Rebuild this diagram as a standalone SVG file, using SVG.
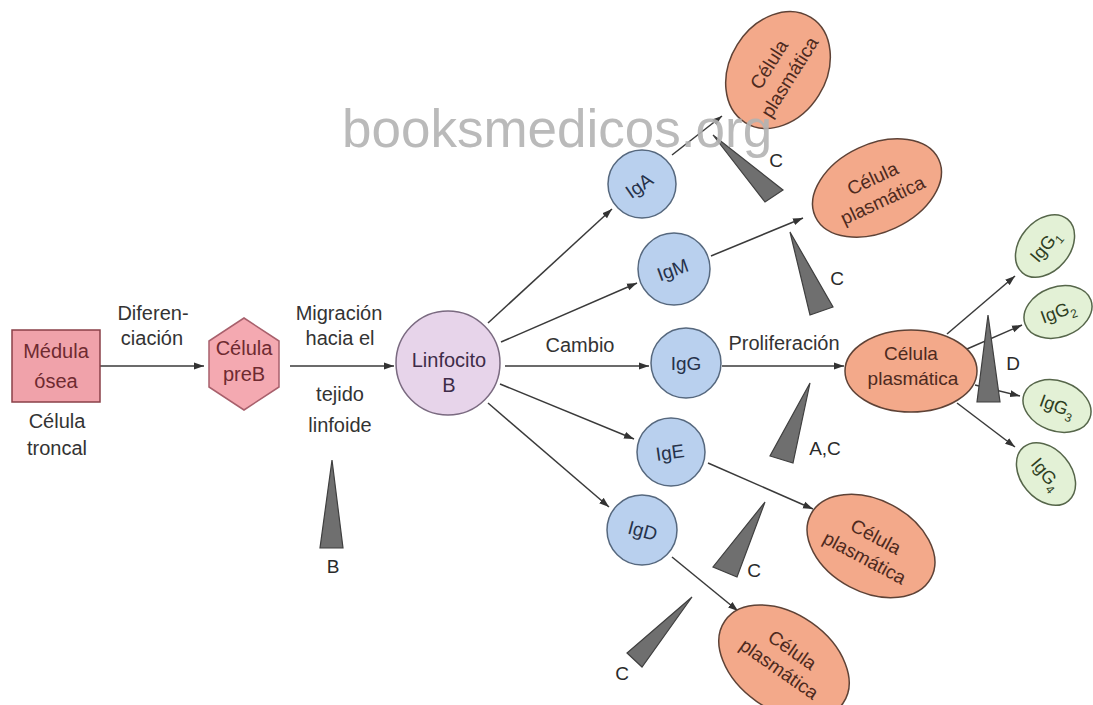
<svg xmlns="http://www.w3.org/2000/svg" width="1093" height="705" viewBox="0 0 1093 705">
<defs>
<marker id="ah" markerUnits="userSpaceOnUse" markerWidth="11" markerHeight="8" refX="10" refY="4" orient="auto">
<path d="M0,0.5 L10,4 L0,7.5 Z" fill="#333"/>
</marker>
<style>
text{font-family:"Liberation Sans",Arial,sans-serif;text-anchor:middle}
.lbl{font-size:20px;fill:#333}
.wl{font-size:19px;fill:#2a2a2a}
.conn line,.conn path{stroke:#3a3a3a;stroke-width:1.5;fill:none;marker-end:url(#ah)}
.wedge{fill:#6f6f6f;stroke:#3f3f3f;stroke-width:1.2}
.ig circle{fill:#b9d0ee;stroke:#56687e;stroke-width:1.5}
.ig text{font-size:19px;fill:#26324a}
.pc ellipse{fill:#f3a98a;stroke:#5e4236;stroke-width:1.5}
.pc text{font-size:19px;fill:#4e2a1e}
.sg ellipse{fill:#e3f1d6;stroke:#56664a;stroke-width:1.5}
.sg text{font-size:18px;fill:#2e3e22}
</style>
</defs>
<rect width="1093" height="705" fill="#fff"/>

<g class="conn">
<line x1="100" y1="366" x2="204" y2="366"/>
<line x1="290" y1="366" x2="394" y2="366"/>
<line x1="505" y1="366" x2="649" y2="366"/>
<line x1="722" y1="366" x2="844" y2="366"/>
<line x1="488" y1="323" x2="612" y2="209"/>
<line x1="501" y1="342" x2="637" y2="283"/>
<line x1="500" y1="384" x2="634" y2="439"/>
<line x1="488" y1="403" x2="609" y2="507"/>
<line x1="672" y1="155" x2="722" y2="116"/>
<line x1="711" y1="256" x2="803" y2="218"/>
<line x1="708" y1="463" x2="813" y2="509"/>
<line x1="672" y1="557" x2="738" y2="611"/>
<line x1="947" y1="334" x2="1015" y2="276"/>
<line x1="967" y1="349" x2="1022" y2="325"/>
<line x1="975" y1="385" x2="1020" y2="396"/>
<line x1="957" y1="403" x2="1015" y2="447"/>
</g>

<g id="medula">
<rect x="12" y="330" width="88" height="72" fill="#f0a2aa" stroke="#8a4048" stroke-width="1.5"/>
<text x="56" y="358" font-size="20" fill="#6e2a30">Médula</text>
<text x="56" y="388" font-size="20" fill="#6e2a30">ósea</text>
<text x="57" y="428" class="lbl">Célula</text>
<text x="57" y="455" class="lbl">troncal</text>
</g>

<g id="preB">
<polygon points="244,318 279,341 279,387 244,410 209,387 209,341" fill="#f4a9b1" stroke="#a8606c" stroke-width="1.5"/>
<text x="244" y="355" font-size="20" fill="#6e2a30">Célula</text>
<text x="244" y="381" font-size="20" fill="#6e2a30">preB</text>
</g>

<g id="linfocitoB">
<circle cx="448" cy="363" r="52" fill="#e7d4ea" stroke="#7a6a80" stroke-width="1.5"/>
<text x="449" y="367" font-size="20" fill="#3e2c48">Linfocito</text>
<text x="449" y="392" font-size="20" fill="#3e2c48">B</text>
</g>

<g id="labels">
<text x="153" y="320" class="lbl">Diferen-</text>
<text x="152" y="345" class="lbl">ciación</text>
<text x="339" y="320" class="lbl">Migración</text>
<text x="340" y="345" class="lbl">hacia el</text>
<text x="340" y="401" class="lbl">tejido</text>
<text x="340" y="432" class="lbl">linfoide</text>
<text x="580" y="352" class="lbl">Cambio</text>
<text x="784" y="350" class="lbl">Proliferación</text>
</g>

<g id="IgA" class="ig"><circle cx="642" cy="184" r="34"/><text transform="translate(643,191) rotate(-35)">IgA</text></g>
<g id="IgM" class="ig"><circle cx="674" cy="269" r="36"/><text transform="translate(675,276) rotate(-20)">IgM</text></g>
<g id="IgG" class="ig"><circle cx="686" cy="363" r="35"/><text x="686" y="370">IgG</text></g>
<g id="IgE" class="ig"><circle cx="671" cy="452" r="34"/><text transform="translate(671,459) rotate(-8)">IgE</text></g>
<g id="IgD" class="ig"><circle cx="642" cy="530" r="35"/><text transform="translate(641,537) rotate(15)">IgD</text></g>

<g id="plasmaA" class="pc" transform="translate(778,70) rotate(-58)">
<ellipse rx="62" ry="48"/><text y="-4">Célula</text><text y="20">plasmática</text>
</g>
<g id="plasmaM" class="pc" transform="translate(877,188) rotate(-25)">
<ellipse rx="68" ry="44"/><text y="-4">Célula</text><text y="20">plasmática</text>
</g>
<g id="plasmaG" class="pc" transform="translate(911,371)">
<ellipse rx="66" ry="41"/><text y="-11" font-size="20">Célula</text><text x="2" y="14" font-size="20">plasmática</text>
</g>
<g id="plasmaE" class="pc" transform="translate(871,546) rotate(28)">
<ellipse rx="68" ry="46"/><text y="-4">Célula</text><text y="20">plasmática</text>
</g>
<g id="plasmaD" class="pc" transform="translate(784,662) rotate(35)">
<ellipse rx="72" ry="48"/><text y="-8">Célula</text><text y="15">plasmática</text>
</g>

<g id="IgG1" class="sg" transform="translate(1045,246) rotate(-50)"><ellipse rx="35" ry="25"/><text y="6">IgG<tspan font-size="12" dy="5">1</tspan></text></g>
<g id="IgG2" class="sg" transform="translate(1058,312) rotate(-20)"><ellipse rx="35" ry="25"/><text y="6">IgG<tspan font-size="12" dy="5">2</tspan></text></g>
<g id="IgG3" class="sg" transform="translate(1057,406) rotate(20)"><ellipse rx="35" ry="25"/><text y="6">IgG<tspan font-size="12" dy="5">3</tspan></text></g>
<g id="IgG4" class="sg" transform="translate(1046,474) rotate(50)"><ellipse rx="35" ry="25"/><text y="6">IgG<tspan font-size="12" dy="5">4</tspan></text></g>

<g id="wedges">
<polygon class="wedge" points="332,460 320,548 343,548"/>
<polygon class="wedge" points="713,135 765,202 783,190"/>
<polygon class="wedge" points="790,232 810,315 833,307"/>
<polygon class="wedge" points="810,383 770,456 793,463"/>
<polygon class="wedge" points="765,502 713,567 737,577"/>
<polygon class="wedge" points="692,597 627,653 642,667"/>
<polygon class="wedge" points="988,315 977,402 1000,402"/>
<text x="333" y="573" class="wl">B</text>
<text x="776" y="167" class="wl">C</text>
<text x="837" y="285" class="wl">C</text>
<text x="825" y="455" class="wl">A,C</text>
<text x="754" y="577" class="wl">C</text>
<text x="622" y="680" class="wl">C</text>
<text x="1013" y="370" class="wl">D</text>
</g>

<text id="watermark" x="342" y="147" font-size="53" fill="#b3b3b3" opacity="0.9" style="text-anchor:start">booksmedicos.org</text>
</svg>
